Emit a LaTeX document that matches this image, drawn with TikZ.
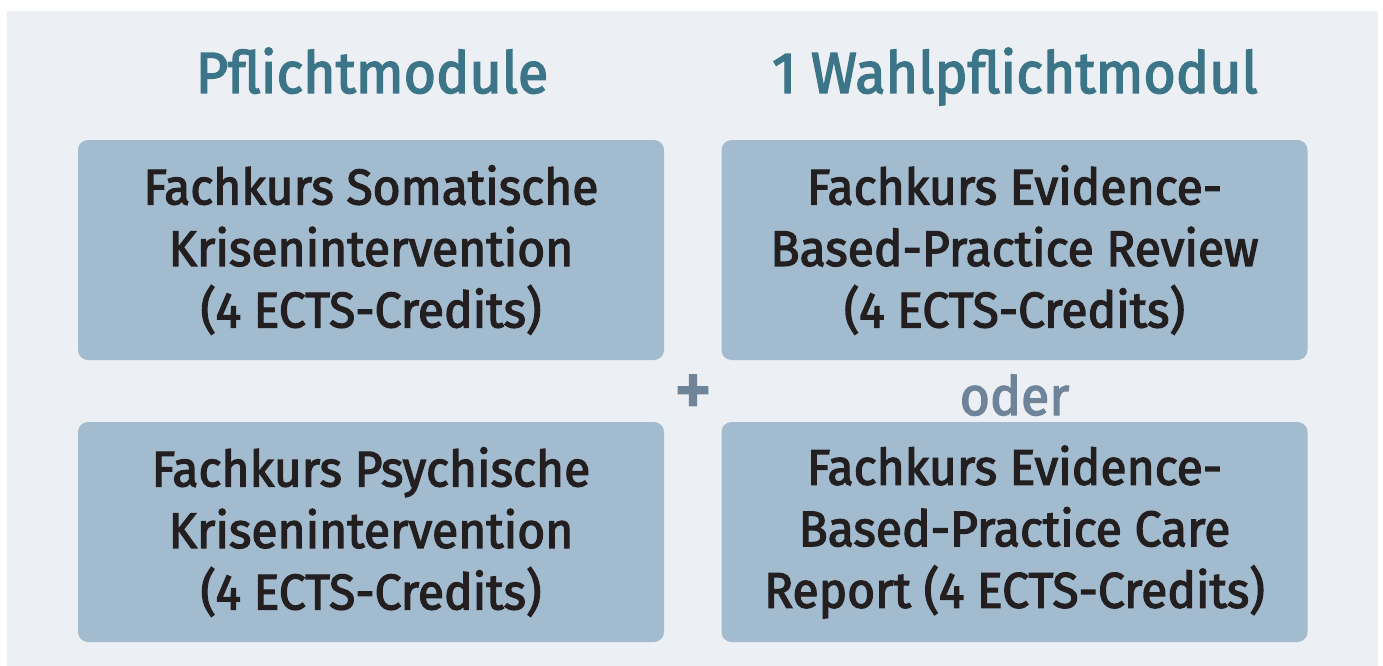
\documentclass[tikz,border=0pt]{standalone}
\usepackage{fontspec}
\setmainfont{Fira Sans}[FakeStretch=0.96, FakeBold=2.5]
\definecolor{bgc}{HTML}{ECEFF4}
\definecolor{boxc}{HTML}{A3BBCE}
\definecolor{titlec}{HTML}{3B7587}
\definecolor{txtc}{HTML}{231F20}
\definecolor{opc}{HTML}{6F8498}
\tikzset{
  modbox/.style={fill=boxc, rounded corners=10pt, minimum width=586pt, minimum height=220pt,
    inner sep=0pt, align=center, text=txtc, font={\fontsize{50}{61.5}\selectfont}},
  heading/.style={anchor=base, text=titlec, inner sep=0pt, font={\fontsize{58}{70}\selectfont}},
  operator/.style={text=opc, inner sep=0pt, font={\fontsize{54}{60}\selectfont}}
}
\begin{document}
\begin{tikzpicture}[x=1pt,y=-1pt]
\useasboundingbox (0,0) rectangle (1383,666);
\fill[bgc] (7,11) rectangle (1378,666);
\node[heading] (t1) at (372,93) {Pflichtmodule};
\node[heading] (t2) at (1015,93) {1 Wahlpflichtmodul};
\node[modbox] (b1) at (371,250) {Fachkurs Somatische\\Krisenintervention\\(4 ECTS-Credits)};
\node[modbox] (b2) at (1014.5,250) {Fachkurs Evidence-\\Based-Practice Review\\(4 ECTS-Credits)};
\node[modbox] (b3) at (371,532) {Fachkurs Psychische\\Krisenintervention\\(4 ECTS-Credits)};
\node[modbox] (b4) at (1014.5,532) {Fachkurs Evidence-\\Based-Practice Care\\Report (4 ECTS-Credits)};
\node[operator, font={\fontsize{80}{80}\selectfont}] (plus) at (693,396) {+};
\node[operator, anchor=base] (oder) at (1014.5,415) {oder};
\end{tikzpicture}
\end{document}
